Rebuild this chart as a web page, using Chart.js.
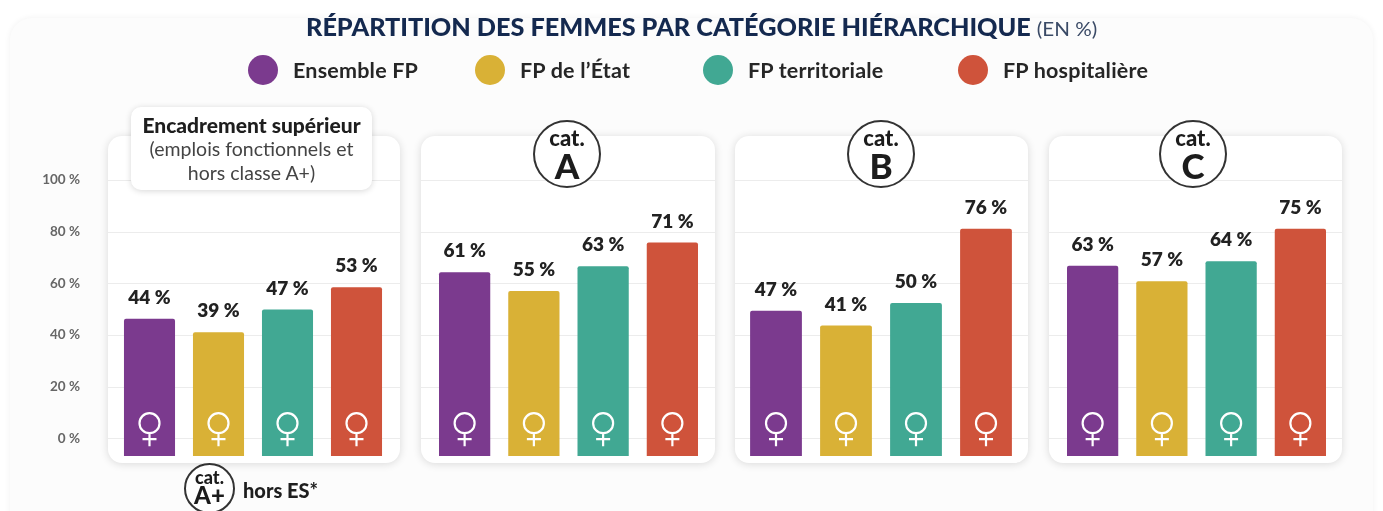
<!DOCTYPE html>
<html lang="fr"><head><meta charset="utf-8">
<script src="https://cdn.jsdelivr.net/npm/chart.js@4"></script>
<style>
html,body{margin:0;padding:0;background:#fff;width:1383px;height:511px;overflow:hidden;font-family:Lato,sans-serif}
#stage{position:relative;width:1383px;height:511px}
#card{position:absolute;left:10px;top:18px;width:1363px;height:520px;background:#fcfcfc;border-radius:22px;box-shadow:0 0 6px rgba(0,0,0,.06)}
.panel{position:absolute;top:136px;height:327px;background:#fff;border-radius:14px;box-shadow:0 1px 8px rgba(0,0,0,.14)}
canvas{position:absolute;top:0}
.t{position:absolute;white-space:nowrap}
#title{left:306px;top:12px;font-size:24.5px;line-height:30px;font-weight:900;color:#14294f;transform-origin:left center;transform:scaleX(1.03)}
#title span{font-weight:400;font-size:20px;color:#3a4a66}
.dot{position:absolute;top:55px;width:30px;height:30px;border-radius:50%}
.leg{top:58px;font-size:21.5px;line-height:24px;font-weight:700;color:#262626;letter-spacing:.2px}
#box{position:absolute;left:131px;top:107px;width:241px;height:83px;background:#fff;border-radius:10px;box-shadow:0 1px 6px rgba(0,0,0,.16);text-align:center;color:#444;font-size:19.5px;line-height:24px;padding-top:6px;box-sizing:border-box}
#box b{display:block;color:#1e1e1e;font-size:21px;font-weight:900}
.badge{position:absolute;border:2px solid #333;border-radius:50%;background:#fff;box-sizing:border-box;text-align:center;color:#1c1c1c;font-weight:900}
.badge i{position:absolute;left:0;right:0;font-style:normal}
</style></head>
<body><div id="stage">
<div id="card"></div>
<div class="panel" style="left:108px;width:292px"></div>
<div class="panel" style="left:421px;width:294px"></div>
<div class="panel" style="left:735px;width:293px"></div>
<div class="panel" style="left:1049px;width:293px"></div>
<canvas id="c0"></canvas><canvas id="c1"></canvas><canvas id="c2"></canvas><canvas id="c3"></canvas>
<div class="t" id="title">RÉPARTITION DES FEMMES PAR CATÉGORIE HIÉRARCHIQUE <span>(EN %)</span></div>
<div id="legend"></div>
<div id="box"><b>Encadrement supérieur</b>(emplois fonctionnels et<br>hors classe A+)</div>
<div class="badge" style="left:533px;top:120px;width:68px;height:68px"><i style="top:3px;font-size:22px;line-height:26px">cat.</i><i style="top:23px;font-size:35px;line-height:40px">A</i></div>
<div class="badge" style="left:847px;top:120px;width:68px;height:68px"><i style="top:3px;font-size:22px;line-height:26px">cat.</i><i style="top:23px;font-size:35px;line-height:40px">B</i></div>
<div class="badge" style="left:1159px;top:120px;width:68px;height:68px"><i style="top:3px;font-size:22px;line-height:26px">cat.</i><i style="top:23px;font-size:35px;line-height:40px">C</i></div>
<div class="badge" style="left:184px;top:463px;width:51px;height:51px"><i style="top:2px;font-size:18px;line-height:20px">cat.</i><i style="top:15px;font-size:24px;line-height:30px">A+</i></div>
<div class="t" style="left:243px;top:479px;font-size:20px;line-height:22px;font-weight:900;color:#1e1e1e">hors ES*</div>
</div>
<script>
const categories = ['Ensemble FP', 'FP de l’État', 'FP territoriale', 'FP hospitalière'];
const colors = ['#7b3a8e', '#d9b136', '#41a893', '#cf533b'];
const legendDotX = [248, 475, 703, 958];
const legendTextX = [293, 520, 748, 1003];
const yTicks = [0, 20, 40, 60, 80, 100];

// Bar tops as drawn against the y axis of the picture
const barsEncadrement = [46.3, 41, 49.8, 58.5];
const barsCatA = [64.3, 57, 66.6, 75.8];
const barsCatB = [49.4, 43.6, 52.4, 81.1];
const barsCatC = [66.8, 60.8, 68.5, 81.1];

// Values printed above the bars
const labelsEncadrement = [44, 39, 47, 53];
const labelsCatA = [61, 55, 63, 71];
const labelsCatB = [47, 41, 50, 76];
const labelsCatC = [63, 57, 64, 75];

const legend = document.getElementById('legend');
categories.forEach((name, i) => {
  legend.insertAdjacentHTML('beforeend',
    `<div class="dot" style="left:${legendDotX[i]}px;background:${colors[i]}"></div>` +
    `<div class="t leg" style="left:${legendTextX[i]}px">${name}</div>`);
});

const panelPlugin = {
  id: 'panelPlugin',
  beforeDatasetsDraw(chart, args, opts) {
    const { ctx, scales: { y } } = chart;
    ctx.save();
    ctx.strokeStyle = '#ececec';
    ctx.lineWidth = 1;
    yTicks.forEach(v => {
      const py = Math.round(y.getPixelForValue(v)) + 0.5;
      ctx.beginPath();
      ctx.moveTo(opts.gridLeft, py);
      ctx.lineTo(opts.gridRight, py);
      ctx.stroke();
    });
    ctx.restore();
  },
  afterDatasetsDraw(chart, args, opts) {
    const { ctx, scales: { y } } = chart;
    const cy = y.getPixelForValue(0) - 15;
    ctx.save();
    chart.getDatasetMeta(0).data.forEach((bar, i) => {
      ctx.fillStyle = '#222';
      ctx.font = '800 19px Lato';
      ctx.textAlign = 'center';
      ctx.textBaseline = 'middle';
      ctx.fillText(opts.labels[i] + ' %', bar.x, bar.y - 21);
      ctx.strokeStyle = '#fff';
      ctx.lineWidth = 2.2;
      ctx.beginPath();
      ctx.arc(bar.x, cy, 10, 0, Math.PI * 2);
      ctx.moveTo(bar.x, cy + 10);
      ctx.lineTo(bar.x, cy + 23);
      ctx.moveTo(bar.x - 7, cy + 16);
      ctx.lineTo(bar.x + 7, cy + 16);
      ctx.stroke();
    });
    ctx.restore();
  }
};

function makeChart(id, left, width, padL, padR, gridLeft, gridRight, bars, labels, showAxis) {
  const cv = document.getElementById(id);
  cv.style.left = left + 'px';
  cv.style.width = width + 'px';
  cv.style.height = '511px';
  cv.width = width; cv.height = 511;
  new Chart(cv, {
    type: 'bar',
    data: {
      labels: categories,
      datasets: [{ data: bars, base: -6.9, backgroundColor: colors, borderRadius: 2, barPercentage: 0.74, categoryPercentage: 1 }]
    },
    plugins: [panelPlugin],
    options: {
      responsive: false,
      animation: false,
      layout: { padding: { left: padL, right: padR, top: 180, bottom: 55 } },
      plugins: { legend: { display: false }, tooltip: { enabled: false },
        panelPlugin: { labels, gridLeft, gridRight } },
      scales: {
        x: { display: false },
        y: {
          display: showAxis, min: -6.9, max: 100,
          grid: { display: false }, border: { display: false },
          afterBuildTicks: s => { s.ticks = yTicks.map(v => ({ value: v })); },
          afterFit: s => { s.width = showAxis ? 115 : 0; },
          ticks: { padding: 27, color: '#666', font: { family: 'Lato', size: 13.5, weight: '700' }, callback: v => v + ' %' }
        }
      }
    }
  });
}
makeChart('c0', 0, 400, 0, 9, 108, 400, barsEncadrement, labelsEncadrement, true);
makeChart('c1', 421, 294, 9, 8, 0, 294, barsCatA, labelsCatA, false);
makeChart('c2', 735, 293, 6, 7, 0, 293, barsCatB, labelsCatB, false);
makeChart('c3', 1049, 293, 9, 7, 0, 293, barsCatC, labelsCatC, false);
</script>
</body></html>
